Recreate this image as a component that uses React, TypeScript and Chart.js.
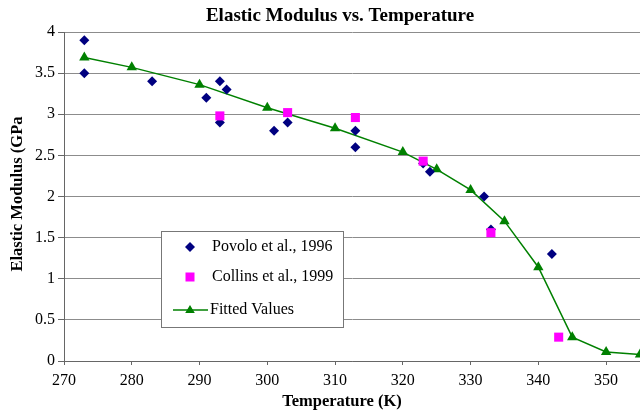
import React, { useEffect, useRef } from 'react';
import { Chart, registerables } from 'chart.js';

Chart.register(...registerables);

const chartTitle = 'Elastic Modulus vs. Temperature';
const xTitle = 'Temperature (K)';
const yTitle = 'Elastic Modulus (GPa';

const povoloLabel = 'Povolo et al., 1996';
const povoloT = [273, 273, 283, 291, 293, 293, 294, 301, 303, 313, 313, 323, 324, 332, 333, 342];
const povoloE = [3.9, 3.5, 3.4, 3.2, 3.4, 2.9, 3.3, 2.8, 2.9, 2.8, 2.6, 2.4, 2.3, 2.0, 1.6, 1.3];

const collinsLabel = 'Collins et al., 1999';
const collinsT = [293, 303, 313, 323, 333, 343];
const collinsE = [2.98, 3.02, 2.96, 2.43, 1.56, 0.29];

const fittedLabel = 'Fitted Values';
const fittedT = [273, 280, 290, 300, 310, 320, 325, 330, 335, 340, 345, 350, 355];
const fittedE = [3.69, 3.57, 3.36, 3.08, 2.83, 2.54, 2.33, 2.08, 1.7, 1.14, 0.29, 0.11, 0.08];

const xMin = 270;
const xMax = 355;
const xStep = 10;
const yMin = 0;
const yMax = 4;
const yStep = 0.5;

const NAVY = '#000080';
const MAGENTA = '#ff00ff';
const GREEN = '#008000';
const SERIF = '"Liberation Serif", "Times New Roman", serif';

const toPoints = (xs: number[], ys: number[]) => xs.map((x, i) => ({ x, y: ys[i] }));

export default function App() {
  const ref = useRef<HTMLCanvasElement | null>(null);

  useEffect(() => {
    if (!ref.current) return;
    Chart.defaults.font.family = SERIF;

    const textPlugin = {
      id: 'textAndLegend',
      afterDraw(chart: any) {
        const c = chart.ctx as CanvasRenderingContext2D;
        c.save();
        c.fillStyle = '#000';
        c.textAlign = 'center';
        c.textBaseline = 'middle';
        c.font = `bold 19px ${SERIF}`;
        c.fillText(chartTitle, 340, 16);
        c.font = `bold 16.5px ${SERIF}`;
        c.fillText(xTitle, 342, 402);
        c.save();
        c.translate(18, 194);
        c.rotate(-Math.PI / 2);
        c.fillText(yTitle, 0, 0);
        c.restore();

        // legend
        const bx = 161.5, by = 231.5, bw = 182, bh = 96;
        c.fillStyle = '#fff';
        c.fillRect(bx, by, bw, bh);
        c.strokeStyle = '#777';
        c.lineWidth = 1;
        c.strokeRect(bx, by, bw, bh);

        const mx = 190;
        const tx = 212;
        const rows = [247, 277, 310];
        // diamond
        c.fillStyle = NAVY;
        c.beginPath();
        c.moveTo(mx - 5, rows[0]);
        c.lineTo(mx, rows[0] - 5);
        c.lineTo(mx + 5, rows[0]);
        c.lineTo(mx, rows[0] + 5);
        c.closePath();
        c.fill();
        // square
        c.fillStyle = MAGENTA;
        c.fillRect(mx - 4.5, rows[1] - 4.5, 9, 9);
        // line + triangle
        c.strokeStyle = GREEN;
        c.lineWidth = 1.5;
        c.beginPath();
        c.moveTo(173, rows[2]);
        c.lineTo(208, rows[2]);
        c.stroke();
        c.fillStyle = GREEN;
        c.beginPath();
        c.moveTo(mx, rows[2] - 5);
        c.lineTo(mx + 4.8, rows[2] + 3);
        c.lineTo(mx - 4.8, rows[2] + 3);
        c.closePath();
        c.fill();

        c.fillStyle = '#000';
        c.textAlign = 'left';
        c.font = `16px ${SERIF}`;
        const labels = [povoloLabel, collinsLabel, fittedLabel];
        labels.forEach((l, i) => c.fillText(l, i === 2 ? tx - 2 : tx, rows[i]));
        c.restore();
      },
    };

    const chart = new Chart(ref.current, {
      type: 'scatter',
      data: {
        datasets: [
          {
            label: collinsLabel,
            data: toPoints(collinsT, collinsE),
            pointStyle: 'rect',
            pointRadius: 6.4,
            backgroundColor: MAGENTA,
            borderColor: MAGENTA,
            borderWidth: 0,
            order: 0,
          },
          {
            label: povoloLabel,
            data: toPoints(povoloT, povoloE),
            pointStyle: 'rectRot',
            pointRadius: 5,
            backgroundColor: NAVY,
            borderColor: NAVY,
            borderWidth: 0,
            order: 1,
          },
          {
            label: fittedLabel,
            data: toPoints(fittedT, fittedE),
            showLine: true,
            pointStyle: 'triangle',
            pointRadius: 6,
            backgroundColor: GREEN,
            pointBorderColor: GREEN,
            borderColor: GREEN,
            borderWidth: 1.5,
            pointBorderWidth: 0,
            order: 2,
          } as any,
        ],
      },
      options: {
        animation: false,
        responsive: false,
        layout: { autoPadding: false, padding: { top: 32, left: 0, right: 0, bottom: 0 } },
        plugins: {
          legend: { display: false },
          title: { display: false },
          tooltip: { enabled: false },
        },
        scales: {
          x: {
            type: 'linear',
            min: xMin,
            max: xMax,
            afterFit: (s: any) => {
              s.height = 53;
              s.paddingLeft = 0;
              s.paddingRight = 0;
            },
            ticks: {
              stepSize: xStep,
              includeBounds: false,
              color: '#000',
              font: { size: 16, family: SERIF },
              padding: 6,
              maxRotation: 0,
            },
            grid: {
              drawOnChartArea: false,
              drawTicks: true,
              tickLength: 4,
              tickColor: '#666',
            },
            border: { display: true, color: '#666', width: 1 },
          },
          y: {
            type: 'linear',
            min: yMin,
            max: yMax,
            afterFit: (s: any) => {
              s.width = 64;
              s.paddingTop = 0;
              s.paddingBottom = 0;
            },
            ticks: {
              stepSize: yStep,
              color: '#000',
              font: { size: 16, family: SERIF },
              padding: 3,
              callback: (v: any) => String(v),
            },
            grid: {
              color: '#8c8c8c',
              lineWidth: 1,
              drawTicks: true,
              tickLength: 6,
              tickColor: '#666',
            },
            border: { display: true, color: '#666', width: 1 },
          },
        },
      } as any,
      plugins: [textPlugin],
    });

    return () => chart.destroy();
  }, []);

  return (
    <div style={{ position: 'fixed', left: 0, top: 0, width: 640, height: 414, background: '#fff' }}>
      <canvas ref={ref} width={640} height={414} style={{ display: 'block' }} />
    </div>
  );
}
